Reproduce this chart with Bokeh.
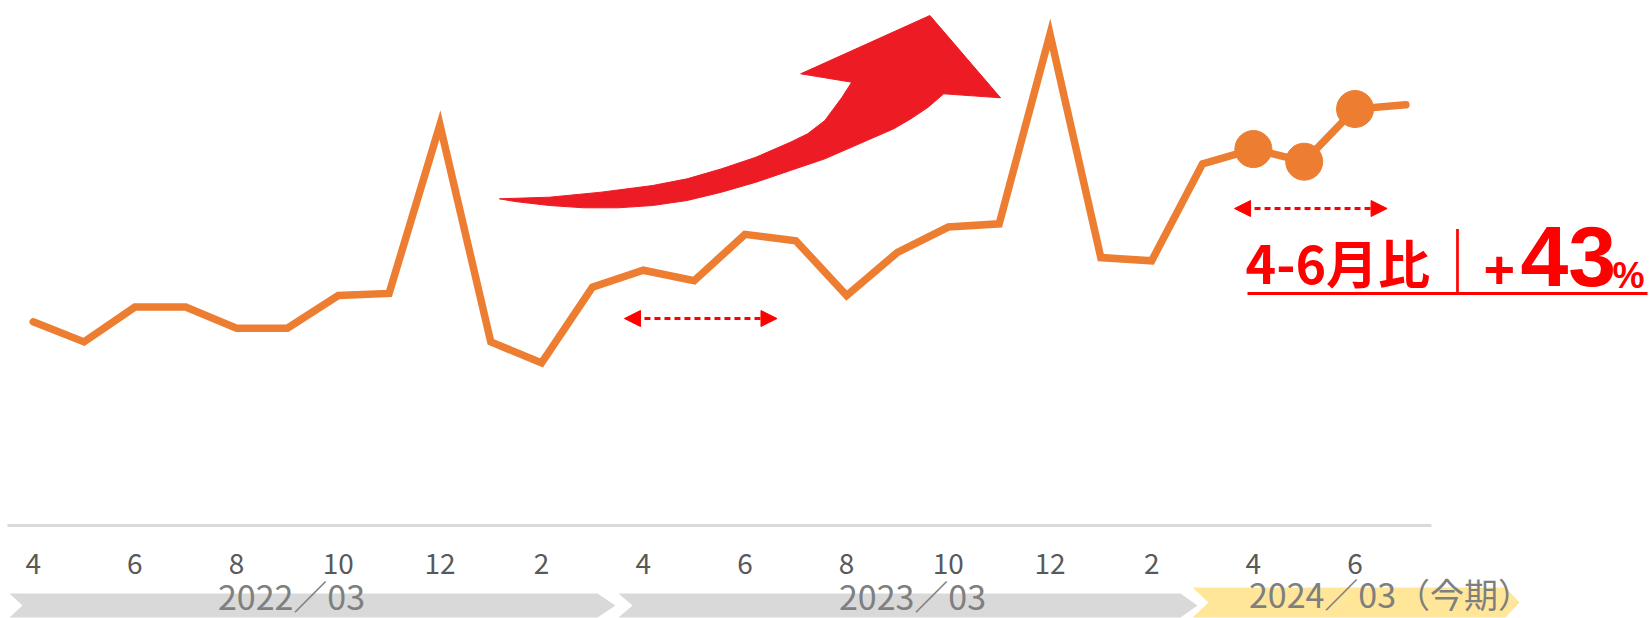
from bokeh.plotting import figure
from bokeh.models import Range1d, LinearAxis, FixedTicker, Arrow, NormalHead
from bokeh.core.properties import value
from bokeh.embed import file_html
from bokeh.resources import INLINE

# ---------------- data ----------------
months = ["4", "5", "6", "7", "8", "9", "10", "11", "12", "1", "2", "3",
          "4", "5", "6", "7", "8", "9", "10", "11", "12", "1", "2", "3",
          "4", "5", "6", "7"]
sales = [193, 174, 207, 207, 187, 187, 218, 220, 380, 174, 154, 226,
         242, 232, 276, 270, 218, 259, 283, 286, 466, 254, 251, 343,
         357, 345, 395, 399]
highlight_idx = [24, 25, 26]          # 2024 Apr-Jun
compare_prev = [12, 14]               # 2023 Apr-Jun
compare_curr = [24, 26]               # 2024 Apr-Jun
fiscal_labels = ["2022／03", "2023／03", "2024／03（今期）"]
headline = "4-6月比"
growth_sign = "+"
growth_value = "43"
growth_unit = "%"

# ---------------- layout helpers ----------------
W, H = 1652, 618
X0, DX = 32.7, 50.84      # pixel of first month, pixels per month
YS, YTOP = 1.0536, 498.0  # pixels per unit, value at top edge


def fx(px):
    return (px - X0) / DX


def fy(py):
    return YTOP - py / YS


p = figure(width=W, height=H, x_range=Range1d(fx(0), fx(W)),
           y_range=Range1d(fy(H), fy(0)), output_backend="svg",
           toolbar_location=None, min_border=0, outline_line_color=None,
           x_axis_type=None, y_axis_type=None, background_fill_color="white",
           border_fill_color="white")

# ---------------- fiscal-year banners ----------------
def chevron(left, notch, body, tip, top, bottom):
    mid = (top + bottom) / 2
    xs = [left, body, tip, body, left, notch]
    ys = [top, top, mid, bottom, bottom, mid]
    return [fx(v) for v in xs], [fy(v) for v in ys]

banner_geo = [(9, 22, 597, 615, 593, 617),
              (618, 632, 1180, 1197, 593, 617),
              (1192, 1208, 1505, 1519, 587, 617)]
banner_colors = ["#d9d9d9", "#d9d9d9", "#ffe699"]
bx, by = [], []
for g in banner_geo:
    a, b = chevron(*g)
    bx.append(a)
    by.append(b)
p.patches(bx, by, fill_color=banner_colors, line_color=None)

p.text(x=[fx(291), fx(912), fx(1390)], y=[fy(595), fy(595), fy(593)],
       text=fiscal_labels, text_font=value("Noto Sans CJK JP"),
       text_font_size="34px", text_color="#7f7f7f", text_align="center",
       text_baseline="alphabetic")

# ---------------- axis ----------------
tick_idx = list(range(0, len(months), 2))
ax = LinearAxis(fixed_location=0, bounds=(-0.5, len(months) - 0.5),
                ticker=FixedTicker(ticks=tick_idx),
                major_label_overrides={i: months[i] for i in tick_idx},
                axis_line_color="#d9d9d9", axis_line_width=3,
                major_tick_line_color=None, minor_tick_line_color=None,
                major_tick_out=0, major_tick_in=0, minor_tick_out=0,
                minor_tick_in=0, major_label_standoff=28,
                major_label_text_font="Noto Sans CJK JP",
                major_label_text_font_size="28px",
                major_label_text_color="#595959")
p.add_layout(ax, "below")

# ---------------- big red arrow ----------------
arrow_px = [(498.9, 198.3), (548.9, 196.7), (600.5, 191.7), (652.2, 185),
            (686.6, 178.3), (721.0, 168.3), (755.5, 156.7), (789.9, 141.7),
            (807.1, 133.3), (824.4, 120), (841.6, 96.7), (851.2, 81.7),
            (800.2, 73.3), (929.4, 15), (1000, 97.3), (943.2, 93.3),
            (927.7, 106.7), (910.4, 118.3), (893.2, 128.3), (858.8, 143.3),
            (824.4, 158.3), (789.9, 170), (755.5, 181.7), (721, 191.7),
            (686.6, 200), (652.2, 205), (617.7, 207.3), (583.3, 207.3),
            (548.9, 205), (514.4, 201)]
p.patch([fx(a) for a, b in arrow_px], [fy(b) for a, b in arrow_px],
        fill_color="#ed1c24", line_color="#ed1c24", line_width=1,
        line_join="round")

# ---------------- main series ----------------
p.line(list(range(len(sales))), sales, line_color="#ed7d31", line_width=7.5,
       line_join="miter", line_cap="round")
p.scatter([i for i in highlight_idx], [sales[i] for i in highlight_idx],
          size=37, fill_color="#ed7d31", line_color="#ed7d31")

# ---------------- comparison arrows ----------------
for (a, b), py in zip([compare_prev, compare_curr], [318, 208]):
    p.add_layout(Arrow(
        start=NormalHead(size=16, fill_color="#ff0000", line_color="#ff0000", line_width=1),
        end=NormalHead(size=16, fill_color="#ff0000", line_color="#ff0000", line_width=1),
        x_start=a - 0.37, y_start=fy(py), x_end=b + 0.63, y_end=fy(py),
        line_color="#ff0000", line_width=3, line_dash="6 4"))

# ---------------- headline ----------------
p.text(x=[fx(1245)], y=[fy(261)], text=[headline], text_font=value("Noto Sans CJK JP"),
       text_font_style="bold", text_font_size="52px", text_color="#ff0000",
       text_align="left", text_baseline="alphabetic")
p.text(x=[fx(1457)], y=[fy(256)], text=["｜"], text_font=value("Noto Sans CJK JP"),
       text_font_size="64px", text_color="#ff0000", text_align="center",
       text_baseline="alphabetic")
p.text(x=[fx(1483)], y=[fy(268.5)], text=[growth_sign], text_font=value("Liberation Sans"),
       text_font_style="bold", text_font_size="54px", text_color="#ff0000",
       text_align="left", text_baseline="alphabetic")
p.text(x=[fx(1520)], y=[fy(256)], text=[growth_value], text_font=value("Liberation Sans"),
       text_font_style="bold", text_font_size="86px", text_color="#ff0000",
       text_align="left", text_baseline="alphabetic")
p.text(x=[fx(1612)], y=[fy(274.5)], text=[growth_unit], text_font=value("Liberation Sans"),
       text_font_style="bold", text_font_size="36px", text_color="#ff0000",
       text_align="left", text_baseline="alphabetic")
p.segment(x0=[fx(1247)], y0=[fy(293)], x1=[fx(1647)], y1=[fy(293)],
          line_color="#ff0000", line_width=3)

open("out.html", "w").write(file_html(p, INLINE))
